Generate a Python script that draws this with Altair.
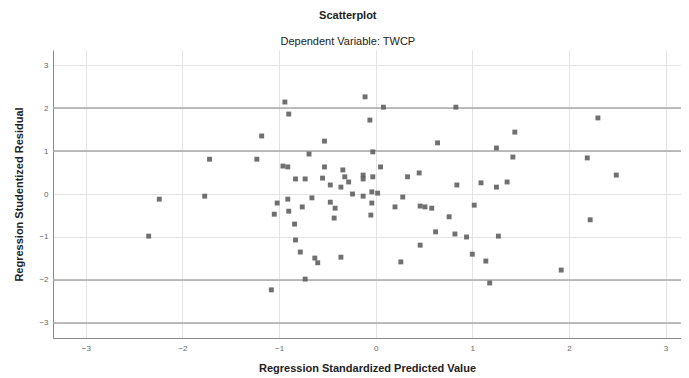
import altair as alt
import pandas as pd

# Regression standardized predicted values (x) and studentized residuals (y)
pred = [-0.94, -0.90, -0.11, -0.06, -1.18, -0.53, -0.03, -0.69, -1.72, -1.23,
        -0.96, -0.91, -0.53, -0.34, -0.32, -0.13, -0.13, -0.03, -0.83, -0.73,
        -0.55, -0.28, -0.47, -0.36, -0.24, -0.13, -0.04, 0.02, -0.66, -2.24,
        -1.77, -0.91, -1.02, -0.47, -0.42, -0.76, -0.90, -1.05, -0.04, -0.05,
        -0.43, -0.84, -2.35, -0.83, -0.78, -0.63, -0.60, -0.36, -0.73, -1.08,
        0.08, 0.83, 2.30, 1.44, 0.64, 1.25, 1.42, 2.19, 0.05, 0.33,
        0.45, 2.49, 0.84, 1.09, 1.25, 1.36, 0.28, 0.20, 0.46, 0.51,
        0.58, 1.02, 0.76, 2.22, 0.62, 0.82, 0.94, 1.27, 0.46, 1.00,
        1.14, 0.26, 1.92, 1.18]
resid = [2.14, 1.86, 2.26, 1.72, 1.35, 1.23, 0.98, 0.93, 0.81, 0.81,
         0.65, 0.63, 0.63, 0.56, 0.40, 0.44, 0.35, 0.40, 0.35, 0.35,
         0.37, 0.28, 0.21, 0.16, 0.00, -0.05, 0.05, 0.02, -0.09, -0.12,
         -0.05, -0.12, -0.21, -0.19, -0.33, -0.30, -0.40, -0.47, -0.21, -0.49,
         -0.56, -0.70, -0.98, -1.07, -1.35, -1.49, -1.60, -1.47, -1.98, -2.23,
         2.02, 2.02, 1.77, 1.44, 1.19, 1.07, 0.86, 0.84, 0.63, 0.40,
         0.49, 0.44, 0.21, 0.26, 0.16, 0.28, -0.07, -0.30, -0.28, -0.30,
         -0.33, -0.26, -0.53, -0.60, -0.88, -0.93, -1.00, -0.98, -1.19, -1.40,
         -1.56, -1.58, -1.77, -2.07]

x_ticks = [-3, -2, -1, 0, 1, 2, 3]
y_ticks = [-3, -2, -1, 0, 1, 2, 3]
ref_lines = [2, 1, -2, -3]

FONT = "Liberation Sans"

df = pd.DataFrame({"pred": pred, "resid": resid})
ref_df = pd.DataFrame({"y": ref_lines})

xscale = alt.Scale(domain=[-3.34, 3.16], nice=False, zero=False)
yscale = alt.Scale(domain=[-3.35, 3.35], nice=False, zero=False)

points = alt.Chart(df).mark_square(size=24, color="#606060", opacity=0.9).encode(
    x=alt.X("pred:Q", scale=xscale,
            axis=alt.Axis(values=x_ticks, title="Regression Standardized Predicted Value",
                          grid=True, gridColor="#e3e3e3", ticks=False,
                          labelFontSize=8, labelColor="#666666", labelPadding=6,
                          domainColor="#8a8a8a", titleFont=FONT, titleFontSize=11,
                          titleFontWeight="bold", titleColor="#222222", titlePadding=10,
                          labelFont=FONT)),
    y=alt.Y("resid:Q", scale=yscale,
            axis=alt.Axis(values=y_ticks, title="Regression Studentized Residual",
                          grid=True, gridColor="#e3e3e3", ticks=False,
                          labelFontSize=8, labelColor="#666666", labelPadding=5,
                          domainColor="#8a8a8a", titleFont=FONT, titleFontSize=11,
                          titleFontWeight="bold", titleColor="#222222", titlePadding=14,
                          labelFont=FONT)),
)

rules = alt.Chart(ref_df).mark_rule(color="#a8a8a8", strokeWidth=1.5).encode(
    y=alt.Y("y:Q", scale=yscale)
)

chart = alt.layer(rules, points).properties(
    width=628,
    height=288,
    autosize=alt.AutoSizeParams(type="none"),
    padding={"left": 45, "top": 42, "right": 0, "bottom": 40},
    title=alt.TitleParams(
        "Scatterplot",
        subtitle="Dependent Variable: TWCP",
        font=FONT, fontSize=11, fontWeight="bold", color="#222222",
        subtitleFont=FONT, subtitleFontSize=11, subtitleColor="#222222",
        subtitlePadding=15, anchor="middle", frame="bounds", offset=3,
    ),
).configure_view(stroke=None)

chart.save("out.html", embed_options={"renderer": "svg", "actions": False})
